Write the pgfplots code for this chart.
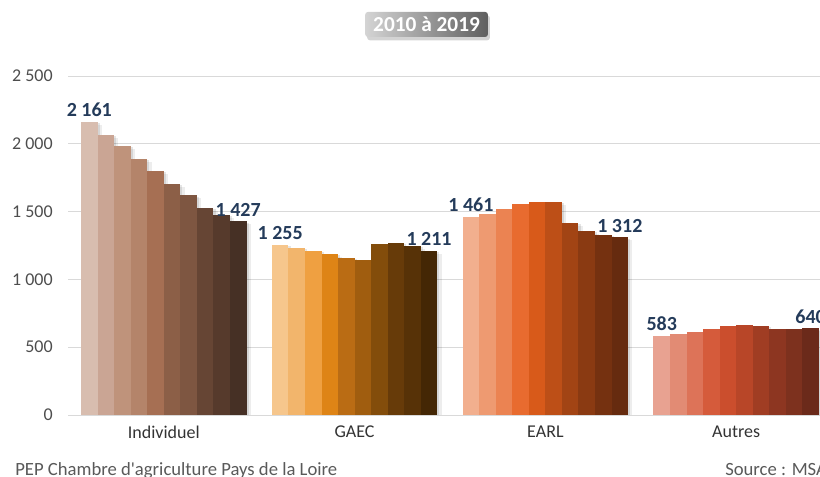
\documentclass[border=0pt]{standalone}
\usepackage{pgfplots}
\pgfplotsset{compat=1.18}
\usepackage{fontspec}
\setmainfont{Carlito}
\usetikzlibrary{shadows}

% Individuel
\definecolor{i1}{HTML}{D8BDAF}\definecolor{i2}{HTML}{CAA594}\definecolor{i3}{HTML}{BF937B}
\definecolor{i4}{HTML}{B4846A}\definecolor{i5}{HTML}{A66F53}\definecolor{i6}{HTML}{8C5F47}
\definecolor{i7}{HTML}{7E5641}\definecolor{i8}{HTML}{664534}\definecolor{i9}{HTML}{563A2C}
\definecolor{i10}{HTML}{463025}
% GAEC
\definecolor{g1}{HTML}{F6C68C}\definecolor{g2}{HTML}{F2B56C}\definecolor{g3}{HTML}{EFA041}
\definecolor{g4}{HTML}{DE8416}\definecolor{g5}{HTML}{BA6C14}\definecolor{g6}{HTML}{A05D0F}
\definecolor{g7}{HTML}{834D0B}\definecolor{g8}{HTML}{673B09}\definecolor{g9}{HTML}{573207}
\definecolor{g10}{HTML}{442705}
% EARL
\definecolor{e1}{HTML}{F2AF8E}\definecolor{e2}{HTML}{EE9A71}\definecolor{e3}{HTML}{EB8352}
\definecolor{e4}{HTML}{E86B2F}\definecolor{e5}{HTML}{D85A1A}\definecolor{e6}{HTML}{BD4F17}
\definecolor{e7}{HTML}{A24414}\definecolor{e8}{HTML}{8A3A12}\definecolor{e9}{HTML}{753110}
\definecolor{e10}{HTML}{662B0F}
% Autres
\definecolor{a1}{HTML}{E8A291}\definecolor{a2}{HTML}{E28B74}\definecolor{a3}{HTML}{DD7358}
\definecolor{a4}{HTML}{D55B3B}\definecolor{a5}{HTML}{CB4E2D}\definecolor{a6}{HTML}{B84628}
\definecolor{a7}{HTML}{A03D23}\definecolor{a8}{HTML}{8D3621}\definecolor{a9}{HTML}{7D311E}
\definecolor{a10}{HTML}{6B2A1A}

\definecolor{lblblue}{HTML}{243B5A}
\definecolor{ticktext}{HTML}{4D4D4D}
\definecolor{foottext}{HTML}{595959}

\newcommand\shadowbars[2]{%
  \addplot[ybar, draw=none, fill=black, fill opacity=0.07, bar shift=3.2pt,
    y filter/.expression={y-22}, forget plot] coordinates {(#1,#2)};
  \addplot[ybar, draw=none, fill=black, fill opacity=0.10, bar shift=1.6pt,
    y filter/.expression={y-11}, forget plot] coordinates {(#1,#2)};
}
\newcommand\mybar[3]{%
  \shadowbars{#1}{#2}%
  \addplot[ybar, draw=none, fill=#3, bar shift=0pt, forget plot] coordinates {(#1,#2)};
}
\newcommand\mybarlbl[3]{%
  \shadowbars{#1}{#2}%
  \addplot[ybar, draw=none, fill=#3, bar shift=0pt, forget plot,
    nodes near coords, nodes near coords align={vertical},
    every node near coord/.append style={font=\fontsize{15}{17}\selectfont\bfseries,
      text=lblblue, /pgf/number format/1000 sep={\ }, /pgf/number format/assume math mode=true,
      inner sep=3.5pt}] coordinates {(#1,#2)};
}

\begin{document}
\begin{tikzpicture}
\begin{axis}[
  at={(51pt,46.5pt)}, anchor=south west,
  scale only axis, width=579pt, height=254.25pt,
  xmin=-0.502, xmax=3.544, ymin=0, ymax=2500,
  bar width=0.0867,
  axis line style={draw=none},
  major tick length=0pt,
  ymajorgrids, grid style={color=black!15, line width=0.6pt},
  ytick={0,500,1000,1500,2000,2500},
  yticklabels={0,500,1 000,1 500,2 000,2 500},
  xtick={0,1,2,3},
  xticklabels={Individuel,GAEC,EARL,Autres},
  yticklabel style={font=\fontsize{13.5}{15}\selectfont, text=ticktext, xshift=-8pt},
  xticklabel style={font=\fontsize{13.5}{15}\selectfont, text=black!80, yshift=-4.5pt},
  clip=false,
]
% Individuel
\mybarlbl{-0.39015}{2161}{i1}
\mybar{-0.30345}{2068}{i2}
\mybar{-0.21675}{1987}{i3}
\mybar{-0.13005}{1888}{i4}
\mybar{-0.04335}{1802}{i5}
\mybar{0.04335}{1704}{i6}
\mybar{0.13005}{1620}{i7}
\mybar{0.21675}{1529}{i8}
\mybar{0.30345}{1477}{i9}
\mybarlbl{0.39015}{1427}{i10}
% GAEC
\mybarlbl{0.60985}{1255}{g1}
\mybar{0.69655}{1233}{g2}
\mybar{0.78325}{1211}{g3}
\mybar{0.86995}{1189}{g4}
\mybar{0.95665}{1160}{g5}
\mybar{1.04335}{1145}{g6}
\mybar{1.13005}{1263}{g7}
\mybar{1.21675}{1270}{g8}
\mybar{1.30345}{1248}{g9}
\mybarlbl{1.39015}{1211}{g10}
% EARL
\mybarlbl{1.60985}{1461}{e1}
\mybar{1.69655}{1484}{e2}
\mybar{1.78325}{1521}{e3}
\mybar{1.86995}{1558}{e4}
\mybar{1.95665}{1573}{e5}
\mybar{2.04335}{1573}{e6}
\mybar{2.13005}{1418}{e7}
\mybar{2.21675}{1359}{e8}
\mybar{2.30345}{1329}{e9}
\mybarlbl{2.39015}{1312}{e10}
% Autres
\mybarlbl{2.60985}{583}{a1}
\mybar{2.69655}{598}{a2}
\mybar{2.78325}{613}{a3}
\mybar{2.86995}{635}{a4}
\mybar{2.95665}{657}{a5}
\mybar{3.04335}{665}{a6}
\mybar{3.13005}{657}{a7}
\mybar{3.21675}{635}{a8}
\mybar{3.30345}{635}{a9}
\mybarlbl{3.39015}{640}{a10}
\end{axis}
% title box
\node[rounded corners=2pt, left color={rgb,255:red,212;green,212;blue,212},
  right color={rgb,255:red,95;green,95;blue,95},
  drop shadow={shadow xshift=1.5pt, shadow yshift=-2.5pt, opacity=0.35},
  text=white, font=\fontsize{16}{18}\selectfont\bfseries,
  minimum width=92pt, minimum height=18.75pt, inner sep=0pt]
  at (319.9pt,339.4pt) {2010 à 2019};
% footer
\node[anchor=base west, inner sep=0pt, text=foottext, font=\fontsize{14}{16}\selectfont]
  at (11.25pt,1.2pt) {PEP Chambre d\textquotesingle agriculture Pays de la Loire};
\node[anchor=base west, inner sep=0pt, text=foottext, font=\fontsize{14}{16}\selectfont]
  at (543.75pt,1.2pt) {Source : MSA};
\pgfresetboundingbox
\useasboundingbox (0pt,0pt) rectangle (615pt,357.75pt);
\end{tikzpicture}
\end{document}
